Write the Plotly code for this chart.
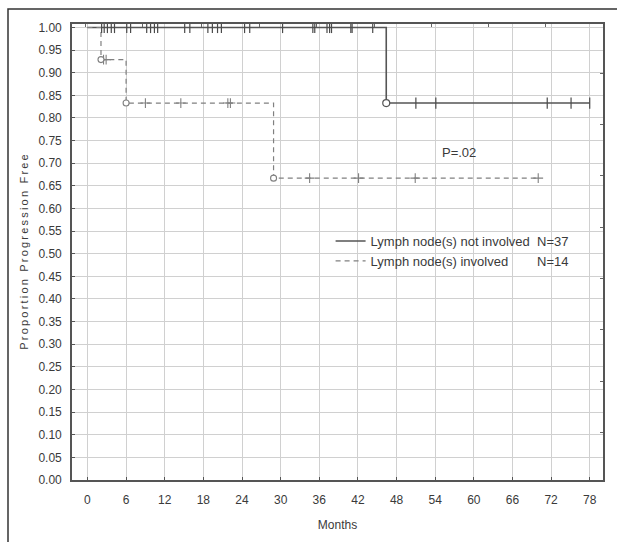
import plotly.graph_objects as go

# ---- data ----
x_ticks = [0, 6, 12, 18, 24, 30, 36, 42, 48, 54, 60, 66, 72, 78]
y_ticks = [round(i * 0.05, 2) for i in range(21)]
y_tick_labels = [f"{v:.2f}" for v in y_ticks]

# Kaplan-Meier step curves (time in months, proportion progression free)
notinv_time = [0, 46.4, 78.0]
notinv_surv = [1.0, 0.833, 0.833]
notinv_event_time = [46.4]
notinv_event_surv = [0.833]
notinv_censor_time = [2.2, 2.6, 3.1, 3.7, 4.2, 6.1, 6.7, 9.2, 9.8, 10.4, 10.9,
                      15.1, 15.9, 18.7, 19.4, 20.2, 20.8, 24.4, 25.2, 30.3,
                      35.0, 35.3, 37.2, 37.6, 37.9, 40.9, 41.1, 44.3,
                      51.0, 54.1, 71.4, 75.1, 78.0]

inv_time = [0, 2.1, 6.0, 28.9, 70.0]
inv_surv = [1.0, 0.929, 0.833, 0.667, 0.667]
inv_event_time = [2.1, 6.0, 28.9]
inv_event_surv = [0.929, 0.833, 0.667]
inv_censor_time = [2.5, 2.9, 9.0, 14.5, 21.8, 22.2, 34.5, 42.1, 50.9, 70.0]

top_minor_ticks = [-0.3, 8.6, 17.7, 26.7, 35.6, 44.5, 53.4, 62.3, 71.2]
right_minor_ticks = [0.899, 0.786, 0.672, 0.559, 0.445, 0.332, 0.218, 0.105]

label_notinv = "Lymph node(s) not involved" + "\u00a0" * 2 + "N=37"
label_inv = "Lymph node(s) involved" + "\u00a0" * 8 + "N=14"


def step_value(times, survs, t):
    v = survs[0]
    for ti, si in zip(times, survs):
        if t >= ti:
            v = si
    return v


FONT = "Liberation Sans, Arial, sans-serif"
SOLID_C = "#555555"
DASH_C = "#808080"

fig = go.Figure()

# curves
fig.add_trace(go.Scatter(x=notinv_time, y=notinv_surv, mode="lines",
                         line=dict(color=SOLID_C, width=1.6, shape="hv"),
                         name=label_notinv, hoverinfo="skip"))
fig.add_trace(go.Scatter(x=inv_time, y=inv_surv, mode="lines",
                         line=dict(color=DASH_C, width=1.2, shape="hv", dash="5px,4px"),
                         name=label_inv, hoverinfo="skip"))

# censor marks
fig.add_trace(go.Scatter(x=notinv_censor_time,
                         y=[step_value(notinv_time, notinv_surv, t) for t in notinv_censor_time],
                         mode="markers", showlegend=False, hoverinfo="skip",
                         marker=dict(symbol="line-ns-open", size=8, color="#4a4a4a",
                                     line=dict(color="#4a4a4a", width=1.2))))
fig.add_trace(go.Scatter(x=inv_censor_time,
                         y=[step_value(inv_time, inv_surv, t) for t in inv_censor_time],
                         mode="markers", showlegend=False, hoverinfo="skip",
                         marker=dict(symbol="cross-thin-open", size=7, color=DASH_C,
                                     line=dict(color=DASH_C, width=1.1))))

# event circles
fig.add_trace(go.Scatter(x=notinv_event_time, y=notinv_event_surv, mode="markers",
                         showlegend=False, hoverinfo="skip",
                         marker=dict(symbol="circle", size=7, color="white",
                                     line=dict(color=SOLID_C, width=1.2))))
fig.add_trace(go.Scatter(x=inv_event_time, y=inv_event_surv, mode="markers",
                         showlegend=False, hoverinfo="skip",
                         marker=dict(symbol="circle", size=6, color="white",
                                     line=dict(color=DASH_C, width=1.1))))

# invisible trace for mirror axes
fig.add_trace(go.Scatter(x=[None], y=[None], xaxis="x2", yaxis="y2",
                         showlegend=False, hoverinfo="skip"))

ytitle = "\u2009".join(list("Proportion Progression Free"))

fig.update_layout(
    width=617, height=542, autosize=False,
    margin=dict(l=72, r=14, t=24, b=62),
    paper_bgcolor="white", plot_bgcolor="white",
    font=dict(family=FONT, size=12, color="#3a3a3a"),
    xaxis=dict(range=[-2.4, 80.06], tickvals=x_ticks, ticktext=[str(v) for v in x_ticks],
               showgrid=True, gridcolor="#d0d0d0", gridwidth=1, zeroline=False,
               showline=True, linecolor="#555555", linewidth=1.6, mirror=True,
               ticks="inside", ticklen=3, tickcolor="#555555",
               ticklabelstandoff=8,
               title=dict(text="Months", font=dict(size=12), standoff=14)),
    yaxis=dict(range=[0, 1.0077], tickvals=y_ticks, ticktext=y_tick_labels,
               showgrid=True, gridcolor="#d0d0d0", gridwidth=1, zeroline=False,
               showline=True, linecolor="#555555", linewidth=1.6, mirror=True,
               ticks="inside", ticklen=3, tickcolor="#555555",
               ticklabelstandoff=6,
               title=dict(text=ytitle, font=dict(size=11), standoff=8)),
    xaxis2=dict(overlaying="x", side="top", range=[-2.4, 80.06], tickvals=top_minor_ticks,
                showticklabels=False, showgrid=False, zeroline=False, showline=False,
                ticks="inside", ticklen=3, tickcolor="#666666"),
    yaxis2=dict(overlaying="y", side="right", range=[0, 1.0077], tickvals=right_minor_ticks,
                showticklabels=False, showgrid=False, zeroline=False, showline=False,
                ticks="inside", ticklen=3, tickcolor="#666666"),
    legend=dict(x=0.487, y=0.557, xanchor="left", yanchor="top",
                bgcolor="rgba(0,0,0,0)", itemwidth=30,
                font=dict(size=13, color="#3a3a3a"), tracegroupgap=0),
    showlegend=True,
    annotations=[dict(x=57.7, y=0.723, xref="x", yref="y", text="P=.02",
                      showarrow=False, font=dict(size=13, color="#3a3a3a"))],
    shapes=[dict(type="rect", xref="paper", yref="paper",
                 x0=(8 - 72) / 531, x1=1.2, y0=-0.3, y1=(542 - 62 - 9) / 456,
                 line=dict(color="#333333", width=1.5), layer="below")],
)

fig.write_html("out.html")
